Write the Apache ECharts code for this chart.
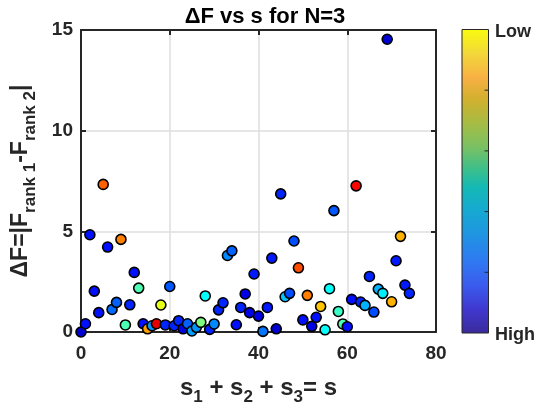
<!DOCTYPE html>
<html><head><meta charset="utf-8">
<script src="https://cdn.jsdelivr.net/npm/echarts@6/dist/echarts.min.js"></script>
<style>html,body{margin:0;padding:0;background:#fff}#c{width:545px;height:408px}</style>
</head><body><div id="c"></div>
<script>
// s = s1 + s2 + s3
const sValues = [0,1,2,3,4,5,6,7,8,9,10,11,12,13,14,15,16,17,18,19,20,21,22,23,24,25,26,27,28,29,
  30,31,32,33,34,35,36,37,38,39,40,41,42,43,44,45,46,47,48,49,50,51,52,53,54,55,56,57,58,59,
  60,61,62,63,64,65,66,67,68,69,70,71,72,73,74];
// ΔF = |F_rank1 - F_rank2|
const deltaF = [0.0,0.41,4.83,2.03,0.96,7.33,4.22,1.12,1.47,4.6,0.35,1.35,2.96,2.18,0.41,0.16,0.31,0.41,1.34,0.35,
  2.26,0.31,0.56,0.16,0.41,0.05,0.23,0.48,1.79,0.13,0.4,1.1,1.45,3.8,4.03,0.36,1.22,1.89,0.96,2.88,
  0.79,0.03,1.22,3.67,0.16,6.86,1.75,1.92,4.52,3.19,0.6,1.82,0.28,0.73,1.27,0.11,2.15,6.03,1.02,0.4,
  0.26,1.62,7.26,1.49,1.32,2.76,0.99,2.13,1.92,14.54,1.5,3.54,4.75,2.33,1.92];
// marker colour level (0 = High ... 1 = Low)
const rankLevel = [0.08,0.14,0.14,0.14,0.14,0.78,0.14,0.23,0.22,0.75,0.45,0.16,0.14,0.45,0.14,0.72,0.27,0.9,0.6,0.16,
  0.21,0.16,0.16,0.1,0.22,0.28,0.27,0.5,0.38,0.16,0.26,0.16,0.16,0.26,0.22,0.14,0.16,0.1,0.1,0.15,
  0.1,0.24,0.15,0.15,0.08,0.16,0.32,0.2,0.2,0.8,0.14,0.75,0.1,0.14,0.68,0.38,0.38,0.21,0.43,0.45,
  0.14,0.14,0.87,0.16,0.3,0.16,0.2,0.3,0.36,0.08,0.7,0.15,0.7,0.15,0.16];
const xTicks = [0,20,40,60,80];
const yTicks = [0,5,10,15];
const colorbarLabels = ['Low','High'];

const FONT = 'Liberation Sans, Arial, sans-serif';
const INK = '#262626';
const jet = ['#00007F','#0000FF','#007FFF','#00FFFF','#7FFF7F','#FFFF00','#FF7F00','#FF0000','#7F0000'];

const chart = echarts.init(document.getElementById('c'), null, {renderer:'canvas'});
const gridL = 81, gridT = 30, gridR = 109, gridB = 76;

function axisCommon(show){
  return {
    axisLine:{show:true,onZero:false,lineStyle:{color:INK,width:2}},
    axisTick:{show:true,inside:true,length:5,lineStyle:{color:INK,width:2}},
    axisLabel:{show:show,fontFamily:FONT,fontWeight:'bold',fontSize:19,color:INK},
  };
}
const cbX = 462, cbY = 29.5, cbW = 26.5, cbH = 303.5;
const cbTicks = [1,2,3,4].map(k => ({type:'line', shape:{x1:cbX+cbW-4,y1:cbY+cbH*k/5,x2:cbX+cbW,y2:cbY+cbH*k/5}, style:{stroke:INK,lineWidth:1}}));

chart.setOption({
  animation:false,
  title:{text:'ΔF vs s for N=3', left:260, top:1, textAlign:'center',
    textStyle:{fontFamily:FONT,fontWeight:'bold',fontSize:22,color:'#000'}},
  grid:{left:gridL,top:gridT,right:gridR,bottom:gridB,containLabel:false,outerBoundsMode:'none'},
  xAxis:[
    Object.assign(axisCommon(true),{type:'value',min:xTicks[0],max:xTicks[xTicks.length-1],interval:20,position:'bottom',
      axisLabel:{fontFamily:FONT,fontWeight:'bold',fontSize:19,color:INK,margin:12},
      splitLine:{show:true,lineStyle:{color:'#dedede',width:1.5}},
      name:'{m|s}{sub|1}{m| + s}{sub|2}{m| + s}{sub|3}{m|= s}', nameLocation:'middle', nameGap:38,
      nameTextStyle:{rich:{
        m:{fontFamily:FONT,fontWeight:'bold',fontSize:24,color:INK,verticalAlign:'middle',lineHeight:36},
        sub:{fontFamily:FONT,fontWeight:'bold',fontSize:17,color:INK,verticalAlign:'bottom',lineHeight:36}}}}),
    Object.assign(axisCommon(false),{type:'value',min:xTicks[0],max:xTicks[xTicks.length-1],interval:20,position:'top',splitLine:{show:false}})
  ],
  yAxis:[
    Object.assign(axisCommon(true),{type:'value',min:yTicks[0],max:yTicks[yTicks.length-1],interval:5,position:'left',
      axisLabel:{fontFamily:FONT,fontWeight:'bold',fontSize:19,color:INK,margin:8},
      splitLine:{show:true,lineStyle:{color:'#dedede',width:1.5}},
      name:'{m|ΔF=|F}{sub|rank 1}{m|-F}{sub|rank 2}{m||}', nameLocation:'middle', nameGap:42, nameRotate:90,
      nameTextStyle:{rich:{
        m:{fontFamily:FONT,fontWeight:'bold',fontSize:23,color:INK,verticalAlign:'middle',lineHeight:36},
        sub:{fontFamily:FONT,fontWeight:'bold',fontSize:17,color:INK,verticalAlign:'bottom',lineHeight:36}}}}),
    Object.assign(axisCommon(false),{type:'value',min:yTicks[0],max:yTicks[yTicks.length-1],interval:5,position:'right',splitLine:{show:false}})
  ],
  visualMap:{show:false,type:'continuous',dimension:2,min:0,max:1,seriesIndex:0,inRange:{color:jet}},
  series:[{
    type:'scatter', xAxisIndex:0, yAxisIndex:0, clip:false,
    symbol:'circle', symbolSize:10,
    itemStyle:{borderColor:'#000',borderWidth:1.6,opacity:1},
    data: sValues.map((s,i)=>[s, deltaF[i], rankLevel[i]])
  }],
  graphic:[
    {type:'rect', shape:{x:cbX,y:cbY,width:cbW,height:cbH},
      style:{fill:new echarts.graphic.LinearGradient(0,0,0,1,[
        {offset:0,color:'#f9fb0e'},{offset:0.08,color:'#f2d83a'},{offset:0.16,color:'#f8b044'},
        {offset:0.23,color:'#d2b02e'},{offset:0.31,color:'#a6bc44'},{offset:0.39,color:'#78c164'},
        {offset:0.46,color:'#3cbf8a'},{offset:0.52,color:'#14b8b4'},{offset:0.59,color:'#16aad0'},
        {offset:0.67,color:'#1e96e0'},{offset:0.76,color:'#2f7af2'},{offset:0.84,color:'#3a5cee'},
        {offset:0.92,color:'#4038d0'},{offset:1,color:'#3a2a9a'}]),
        stroke:INK,lineWidth:1}},
    ...cbTicks,
    {type:'text', x:495, y:32, style:{text:colorbarLabels[0],fontFamily:FONT,fontWeight:'bold',fontSize:18,fill:INK,verticalAlign:'middle'}},
    {type:'text', x:495, y:335, style:{text:colorbarLabels[1],fontFamily:FONT,fontWeight:'bold',fontSize:18,fill:INK,verticalAlign:'middle'}}
  ]
});
</script></body></html>
